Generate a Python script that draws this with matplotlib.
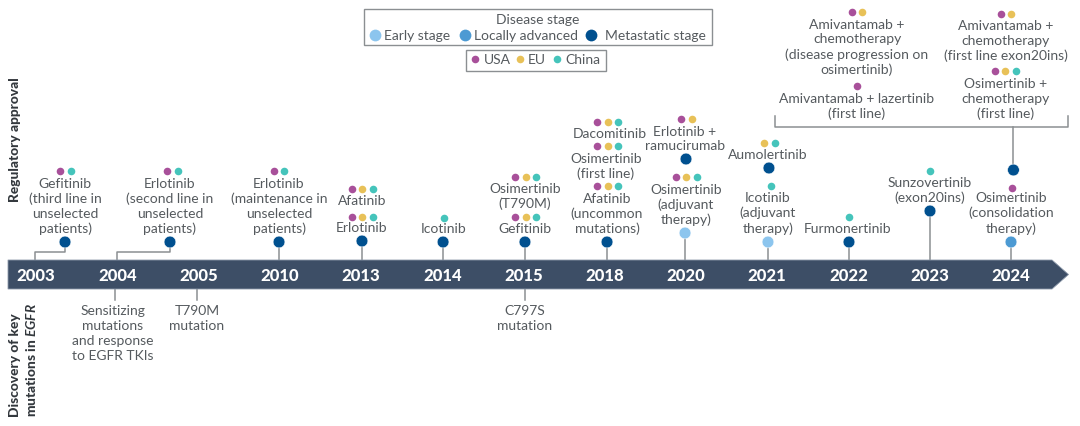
import matplotlib
matplotlib.use("Agg")
import matplotlib.pyplot as plt
from matplotlib.patches import Polygon, Rectangle

plt.rcParams['font.family'] = ['Lato', 'DejaVu Sans']
plt.rcParams['mathtext.fontset'] = 'custom'
plt.rcParams['mathtext.bfit'] = 'Lato:italic:bold'

# ---- data ----
years = ['2003', '2004', '2005', '2010', '2013', '2014', '2015',
         '2018', '2020', '2021', '2022', '2023', '2024']

stage_names = ['Early stage', 'Locally advanced', 'Metastatic stage']
region_names = ['USA', 'EU', 'China']

# approved drugs: text, label position, approving regions, dot position
drug_labels = [
    'Gefitinib\n(third line in\nunselected\npatients)',
    'Erlotinib\n(second line in\nunselected\npatients)',
    'Erlotinib\n(maintenance in\nunselected\npatients)',
    'Afatinib', 'Erlotinib', 'Icotinib',
    'Osimertinib\n(T790M)', 'Gefitinib',
    'Dacomitinib', 'Osimertinib\n(first line)',
    'Afatinib\n(uncommon\nmutations)',
    'Erlotinib +\nramucirumab', 'Osimertinib\n(adjuvant\ntherapy)',
    'Aumolertinib', 'Icotinib\n(adjuvant\ntherapy)',
    'Furmonertinib', 'Sunzovertinib\n(exon20ins)',
    'Osimertinib\n(consolidation\ntherapy)',
    'Amivantamab +\nchemotherapy\n(disease progression on\nosimertinib)',
    'Amivantamab + lazertinib\n(first line)',
    'Amivantamab +\nchemotherapy\n(first line exon20ins)',
    'Osimertinib +\nchemotherapy\n(first line)',
]
drug_label_x = [0.357, 1.649, 2.991, 4.012, 4.012, 5.022, 6.018, 6.018,
                7.065, 7.015, 7.028, 7.988, 8.0, 9.009, 9.009, 9.994,
                11.003, 12.0, 10.105, 10.105, 11.938, 11.938]
drug_label_y = [206.5, 206.5, 206.5, 201, 228, 229, 196.5, 229,
                134, 166.5, 214, 139, 205, 155, 213.5, 229,
                190.5, 213.5, 47.5, 106.5, 41, 99]
drug_regions = [
    ['USA', 'China'], ['USA', 'China'], ['USA', 'China'],
    ['USA', 'EU', 'China'], ['USA', 'EU', 'China'], ['China'],
    ['USA', 'EU', 'China'], ['USA', 'EU', 'China'],
    ['USA', 'EU', 'China'], ['USA', 'EU', 'China'], ['USA', 'EU', 'China'],
    ['USA', 'EU'], ['USA', 'EU', 'China'],
    ['EU', 'China'], ['China'], ['China'], ['China'], ['USA'],
    ['USA', 'EU'], ['USA'], ['USA', 'EU'], ['USA', 'EU', 'China'],
]
drug_dot_x = [0.363, 1.68, 2.991, 4.018, 4.018, 5.022, 6.025, 6.025,
              7.034, 7.034, 7.034, 8.006, 8.006, 9.028, 9.046, 10.006,
              11.003, 12.012, 10.105, 10.105, 11.938, 11.932]
drug_dot_y = [172, 172, 172, 190, 218, 219, 178, 218,
              123, 147, 187, 120, 178, 144, 187, 218,
              172, 189, 13, 87, 15, 72]

# milestones on the timeline
milestone_x = [0.357, 1.649, 2.991, 4.012, 5.01, 6.018, 7.028, 8.0, 7.988,
               9.021, 9.009, 10.006, 11.003, 12.03, 12.0]
milestone_y = [243, 243, 243, 242, 243, 243, 243, 160, 234,
               169, 243, 243, 212, 171, 243]
milestone_stage = ['Metastatic stage'] * 8 + ['Early stage', 'Metastatic stage',
                   'Early stage', 'Metastatic stage', 'Metastatic stage',
                   'Metastatic stage', 'Locally advanced']

# mutation discoveries
mutation_labels = ['Sensitizing\nmutations\nand response\nto EGFR TKIs',
                   'T790M\nmutation', 'C797S\nmutation']
mutation_x = [0.97, 1.98, 6.018]
mutation_label_x = [0.948, 1.982, 6.018]
mutation_label_y = [333.5, 318.5, 318.5]

# ---- styles ----
TXT = '#555a5e'
LINE = '#8b8f92'
BAR = '#3d4e66'
stage_colors = {'Early stage': '#8cc5ee', 'Locally advanced': '#4c9ad3',
                'Metastatic stage': '#00508f'}
region_colors = {'USA': '#a8509a', 'EU': '#e8c158', 'China': '#45c4bb'}
UNIT = 81.25  # pixels per year slot
X0 = 36
FS = 10
LS = 1.27
BIG = 72
SMALL = 30

fig = plt.figure(figsize=(10.8, 4.27), dpi=100)
ax = fig.add_axes([0, 0, 1, 1])
ax.set_xlim(-X0 / UNIT, (1080 - X0) / UNIT)
ax.set_ylim(427, 0)
ax.axis('off')


def sx(px):
    return (px - X0) / UNIT


# timeline bar
ax.add_patch(Polygon([(sx(8), 261), (sx(1052), 261), (sx(1068.5), 275.5),
                      (sx(1052), 290), (sx(8), 290)],
                     closed=True, fc=BAR, ec='#8d99aa', lw=0.6, zorder=2))
for i, y in enumerate(years):
    ax.text(i, 276.5, y, color='white', fontsize=12, fontweight='black',
            ha='center', va='center', zorder=3)

# stems
for x, y in zip(milestone_x[2:], milestone_y[2:]):
    if y in (160, 169, 171):
        continue
    ax.plot([x, x], [y, 261], color=LINE, lw=1.1, zorder=1)
# elbow connectors from the first two milestones to their years
for mx, my, target in zip(milestone_x[:2], milestone_y[:2], [sx(35), sx(117)]):
    ax.plot([mx, mx, target, target], [my, 253, 253, 261], color=LINE, lw=1.1, zorder=1)
# stem and bracket above 2024
ax.plot([12.03, 12.03], [171, 128], color=LINE, lw=1.1, zorder=1)
ax.plot([sx(775), sx(775), sx(1068), sx(1068)], [117, 128, 128, 117], color=LINE, lw=1.1, zorder=1)

# mutation stems and labels
for x in mutation_x:
    ax.plot([x, x], [290, 301], color=LINE, lw=1.1, zorder=1)
for lab, x, y in zip(mutation_labels, mutation_label_x, mutation_label_y):
    ax.text(x, y, lab, color=TXT, fontsize=FS, ha='center', va='center', linespacing=LS)

# milestones
ax.scatter(milestone_x, milestone_y, s=BIG,
           c=[stage_colors[s] for s in milestone_stage],
           edgecolors='white', linewidths=0.4, zorder=4)

# drug labels and approval dots
for lab, x, y in zip(drug_labels, drug_label_x, drug_label_y):
    ax.text(x, y, lab, color=TXT, fontsize=FS, ha='center', va='center', linespacing=LS)
for regs, x, y in zip(drug_regions, drug_dot_x, drug_dot_y):
    n = len(regs)
    for k, r in enumerate(regs):
        ax.scatter(x + (k - (n - 1) / 2) * 10.5 / UNIT, y, s=SMALL,
                   color=region_colors[r], linewidths=0, zorder=4)

# legend boxes
ax.add_patch(Rectangle((sx(364), 10), 348 / UNIT, 36, fc='none', ec='#8b8f92', lw=1.0))
ax.add_patch(Rectangle((sx(466), 51), 140 / UNIT, 21, fc='none', ec='#8b8f92', lw=1.0))
ax.text(sx(538), 20.5, 'Disease stage', color=TXT, fontsize=FS, ha='center', va='center')
for name, dx, tx in zip(stage_names, [375, 465, 591], [384, 474, 605]):
    ax.scatter(sx(dx), 36, s=BIG, color=stage_colors[name], linewidths=0, zorder=4)
    ax.text(sx(tx), 36.5, name, color=TXT, fontsize=FS, ha='left', va='center')
for name, dx, tx in zip(region_names, [475, 520, 557], [484, 528, 565]):
    ax.scatter(sx(dx), 60, s=SMALL, color=region_colors[name], linewidths=0, zorder=4)
    ax.text(sx(tx), 60.5, name, color=TXT, fontsize=FS, ha='left', va='center')

# side titles
ax.text(sx(15), 140, 'Regulatory approval', color='#33383d', fontsize=9.9, fontweight='black',
        rotation=90, ha='center', va='center')
ax.text(sx(15), 417, 'Discovery of key', color='#33383d', fontsize=9.9, fontweight='black',
        rotation=90, ha='center', va='bottom')
ax.text(sx(31.5), 417, r'mutations in $\mathbfit{EGFR}$', color='#33383d', fontsize=9.9,
        fontweight='black', rotation=90, ha='center', va='bottom')

fig.savefig('out.png', dpi=100)
